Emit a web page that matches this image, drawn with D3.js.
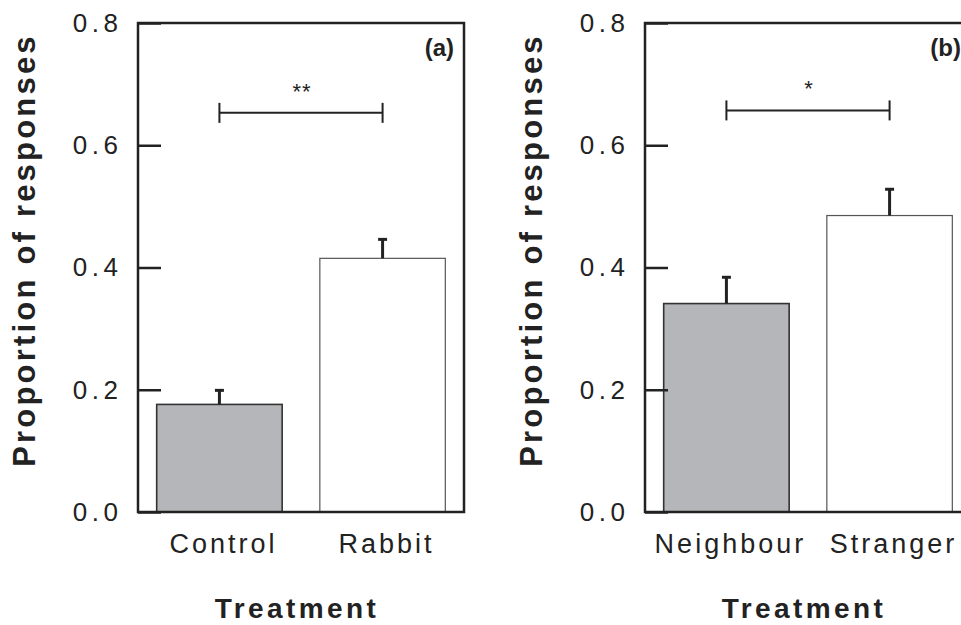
<!DOCTYPE html>
<html>
<head>
<meta charset="utf-8">
<script src="https://cdn.jsdelivr.net/npm/d3@7"></script>
<style>
  body { margin: 0; background: #fff; }
  svg { font-family: "Liberation Sans", Arial, sans-serif; }
</style>
</head>
<body>
<svg id="chart" width="961" height="625"></svg>
<script>
// panel (a)
const catsA = ['Control', 'Rabbit'];
const valsA = [0.176, 0.415];
const errA = [0.023, 0.031];
const sigA = { level: 0.653, mark: '**', tag: '(a)' };

// panel (b)
const catsB = ['Neighbour', 'Stranger'];
const valsB = [0.341, 0.485];
const errB = [0.043, 0.043];
const sigB = { level: 0.657, mark: '*', tag: '(b)' };

const yTicks = [0, 0.2, 0.4, 0.6, 0.8];
const fills = ['#b5b6b9', '#ffffff'];

const svg = d3.select('#chart');
const plotTop = 23, plotBottom = 512, plotW = 326;

function panel(left, cats, vals, errs, sig) {
  const g = svg.append('g');

  const x = d3.scaleBand()
    .domain(cats)
    .range([left, left + plotW])
    .paddingInner(0.231)
    .paddingOuter(0.1145);

  const y = d3.scaleLinear()
    .domain([0, 0.8])
    .range([plotBottom, plotTop]);

  // bars
  g.selectAll('rect.bar')
    .data(cats)
    .enter()
    .append('rect')
    .attr('class', 'bar')
    .attr('x', d => x(d))
    .attr('width', x.bandwidth())
    .attr('y', (d, i) => y(vals[i]))
    .attr('height', (d, i) => plotBottom - y(vals[i]))
    .attr('fill', (d, i) => fills[i])
    .attr('stroke', (d, i) => i === 0 ? '#333' : '#555')
    .attr('stroke-width', (d, i) => i === 0 ? 1.6 : 1.2);

  // error bars (upper only)
  cats.forEach((c, i) => {
    const cx = x(c) + x.bandwidth() / 2;
    g.append('line')
      .attr('x1', cx).attr('x2', cx)
      .attr('y1', y(vals[i])).attr('y2', y(vals[i] + errs[i]))
      .attr('stroke', '#222').attr('stroke-width', 3);
    g.append('line')
      .attr('x1', cx - 4.5).attr('x2', cx + 4.5)
      .attr('y1', y(vals[i] + errs[i])).attr('y2', y(vals[i] + errs[i]))
      .attr('stroke', '#222').attr('stroke-width', 3);
  });

  // frame
  g.append('rect')
    .attr('x', left).attr('y', plotTop)
    .attr('width', plotW).attr('height', plotBottom - plotTop)
    .attr('fill', 'none')
    .attr('stroke', '#222').attr('stroke-width', 2.5);

  // y axis
  const yAxis = g.append('g')
    .attr('transform', 'translate(' + left + ',0)')
    .call(d3.axisLeft(y).tickValues(yTicks).tickFormat(d3.format('.1f'))
      .tickSizeInner(-23).tickSizeOuter(0).tickPadding(15.5));
  yAxis.select('.domain').remove();
  yAxis.selectAll('line').attr('stroke', '#222').attr('stroke-width', 2.5);
  yAxis.selectAll('text')
    .attr('fill', '#222')
    .style('font-size', '26px')
    .style('letter-spacing', '4.5px');

  // x axis labels
  const xAxis = g.append('g')
    .attr('transform', 'translate(0,' + plotBottom + ')')
    .call(d3.axisBottom(x).tickSize(0).tickPadding(22));
  xAxis.select('.domain').remove();
  xAxis.selectAll('text')
    .attr('fill', '#222')
    .attr('dx', '4px')
    .style('font-size', '27px')
    .style('letter-spacing', '3px');

  // significance bracket
  const x0 = x(cats[0]) + x.bandwidth() / 2;
  const x1 = x(cats[1]) + x.bandwidth() / 2;
  const sy = y(sig.level);
  g.append('line')
    .attr('x1', x0).attr('x2', x1).attr('y1', sy).attr('y2', sy)
    .attr('stroke', '#222').attr('stroke-width', 2);
  [x0, x1].forEach(px => {
    g.append('line')
      .attr('x1', px).attr('x2', px).attr('y1', sy - 10).attr('y2', sy + 10)
      .attr('stroke', '#222').attr('stroke-width', 2);
  });
  g.append('text')
    .attr('x', (x0 + x1) / 2 + 1).attr('y', sy - 14)
    .attr('text-anchor', 'middle')
    .attr('fill', '#222')
    .style('font-size', '22px')
    .style('letter-spacing', '1px')
    .text(sig.mark);

  // panel tag
  g.append('text')
    .attr('x', left + plotW - 10).attr('y', 56)
    .attr('text-anchor', 'end')
    .attr('fill', '#222')
    .style('font-size', '24px')
    .style('font-weight', 'bold')
    .text(sig.tag);

  // axis titles
  g.append('text')
    .attr('transform', 'translate(' + (left - 103) + ',250) rotate(-90)')
    .attr('text-anchor', 'middle')
    .attr('fill', '#222')
    .style('font-size', '31px')
    .style('font-weight', 'bold')
    .style('letter-spacing', '3.2px')
    .text('Proportion of responses');

  g.append('text')
    .attr('x', left + plotW / 2 - 4).attr('y', 618)
    .attr('text-anchor', 'middle')
    .attr('fill', '#222')
    .style('font-size', '28px')
    .style('font-weight', 'bold')
    .style('letter-spacing', '3.4px')
    .text('Treatment');
}

panel(138, catsA, valsA, errA, sigA);
panel(645, catsB, valsB, errB, sigB);
</script>
</body>
</html>
